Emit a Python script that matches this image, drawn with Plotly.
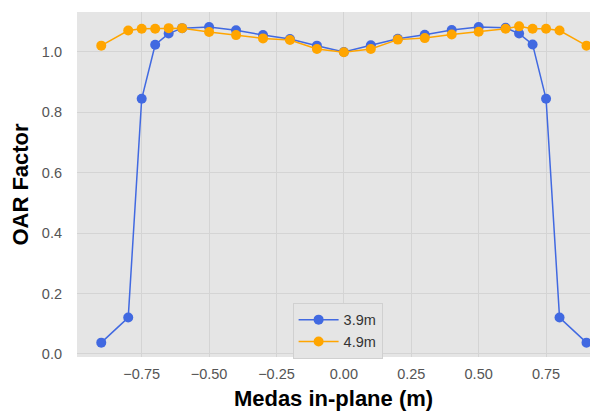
import plotly.graph_objects as go

x_vals = [-0.9, -0.8, -0.75, -0.7, -0.65, -0.6, -0.5, -0.4, -0.3, -0.2, -0.1, 0.0,
          0.1, 0.2, 0.3, 0.4, 0.5, 0.6, 0.65, 0.7, 0.75, 0.8, 0.9]
oar_39 = [0.037, 0.12, 0.845, 1.024, 1.061, 1.079, 1.083, 1.072, 1.056, 1.043, 1.021, 1.0,
          1.022, 1.044, 1.057, 1.073, 1.083, 1.08, 1.061, 1.025, 0.845, 0.12, 0.037]
oar_49 = [1.021, 1.071, 1.077, 1.077, 1.079, 1.079, 1.066, 1.056, 1.045, 1.04, 1.01, 0.999,
          1.01, 1.041, 1.046, 1.058, 1.067, 1.077, 1.085, 1.077, 1.077, 1.071, 1.021]
x_ticks = [-0.75, -0.5, -0.25, 0.0, 0.25, 0.5, 0.75]
x_tick_text = ["\u22120.75", "\u22120.50", "\u22120.25", "0.00", "0.25", "0.50", "0.75"]
y_ticks = [0.0, 0.2, 0.4, 0.6, 0.8, 1.0]
y_tick_text = ["0.0", "0.2", "0.4", "0.6", "0.8", "1.0"]

fig = go.Figure()
fig.add_trace(go.Scatter(x=x_vals, y=oar_39, mode="lines+markers", name="3.9m",
                         line=dict(color="#4169E1", width=1.5),
                         marker=dict(color="#4169E1", size=10), cliponaxis=False))
fig.add_trace(go.Scatter(x=x_vals, y=oar_49, mode="lines+markers", name="4.9m",
                         line=dict(color="#FFA500", width=1.5),
                         marker=dict(color="#FFA500", size=10), cliponaxis=False))

fig.update_layout(
    width=582, height=405,
    margin=dict(l=69, r=0, t=4, b=56, autoexpand=False),
    paper_bgcolor="white", plot_bgcolor="#E5E5E5",
    font=dict(family="Liberation Sans, Arial, sans-serif", size=14.5, color="#555555"),
    showlegend=True,
    legend=dict(x=0.508, xanchor="center", y=-0.005, yanchor="bottom",
                bgcolor="#E5E5E5", bordercolor="#D0D0D0", borderwidth=1,
                itemwidth=40,
                font=dict(size=14.5, color="#333333"), tracegroupgap=0),
    xaxis=dict(range=[-0.99, 0.913], tickvals=x_ticks, ticktext=x_tick_text,
               showgrid=True, gridcolor="#D4D4D4", gridwidth=1, zeroline=False,
               ticks="", showline=False, automargin=False, ticklabelstandoff=6,
               tickfont=dict(size=14.5, color="#555555"),
               title=dict(text="<b>Medas in-plane (m)</b>", standoff=10,
                          font=dict(size=22, color="black"))),
    yaxis=dict(range=[-0.0106, 1.1325], tickvals=y_ticks, ticktext=y_tick_text,
               showgrid=True, gridcolor="#D4D4D4", gridwidth=1, zeroline=False,
               ticks="", showline=False, automargin=False, ticklabelstandoff=14,
               tickfont=dict(size=14.5, color="#555555"),
               title=dict(text="<b>OAR Factor</b>", standoff=21,
                          font=dict(size=22, color="black"))),
)

fig.write_html("out.html")
